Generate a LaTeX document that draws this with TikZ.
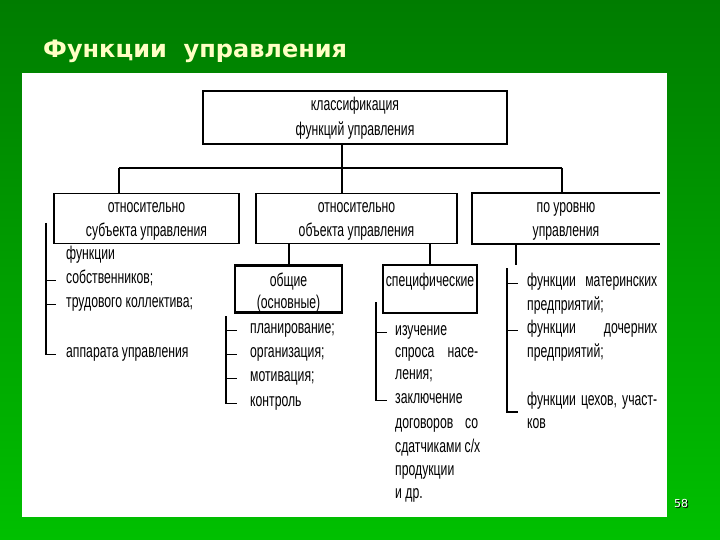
\documentclass[tikz,border=0pt]{standalone}
\usepackage{fontspec}
\setmainfont{Liberation Sans}
\newfontfamily\scanfont[FakeStretch=0.66]{Liberation Sans}
\newfontfamily\titlefont{DejaVu Sans}
\definecolor{bgtop}{RGB}{0,124,0}
\definecolor{bgbot}{RGB}{0,192,0}
\definecolor{titleyellow}{RGB}{255,255,196}
\newcommand{\shadowtext}[3]{\makebox[0pt][l]{\hspace*{#2}\raisebox{-#2}{\textcolor{#3}{#1}}}#1}
\tikzset{
  box/.style={draw, line width=1.7pt, inner sep=0pt},
  subbox/.style={box, line width=2.4pt},
  btext/.style={inner sep=0pt, align=center,
    font=\scanfont\fontsize{18.5}{24}\selectfont},
  conn/.style={line width=2pt},
  brk/.style={line width=1.6pt},
  item/.style={anchor=base west, inner sep=0pt,
    font=\scanfont\fontsize{18.5}{20}\selectfont},
}
\begin{document}
\begin{tikzpicture}[x=1pt,y=-1pt]
\useasboundingbox (0,0) rectangle (720,540);
\shade[top color=bgtop, bottom color=bgbot] (0,0) rectangle (720,540);
% title
\node[anchor=base west, inner sep=0pt, text=titleyellow,
  font=\titlefont\bfseries\fontsize{24}{28}\selectfont] (title) at (43,58)
  {Функции\ \ управления};
% panel
\fill[white] (22,73) rectangle (667,517);
% page number
\node[text=white, font=\titlefont\fontsize{11}{12}\selectfont] (pn) at (681,504)
  {\shadowtext{58}{1pt}{black}};

% top box
\node[box, minimum width=304pt, minimum height=53pt] (top) at (355,117.5) {};
\node[btext, font=\scanfont\fontsize{18.5}{25}\selectfont] (topt) at (355,118.5) {классификация\\функций управления};
% second row
\node[box, minimum width=185pt, minimum height=50pt] (b1) at (146.5,218.5) {};
\node[btext] (b1t) at (146.5,221) {относительно\\субъекта управления};
\node[box, minimum width=201pt, minimum height=50pt] (b2) at (356.5,218.5) {};
\node[btext] (b2t) at (356.5,221) {относительно\\объекта управления};
\node[minimum width=188pt, minimum height=50pt, inner sep=0pt] (b3) at (566,218.5) {};
\draw[line width=1.7pt] (b3.north east) -- (b3.north west) -- (b3.south west) -- (b3.south east);
\node[btext] (b3t) at (566,221) {по уровню\\управления};

% connectors from top
\coordinate (j0) at (342,168);
\coordinate (bl) at (119,168);
\coordinate (br) at (562,168);
\draw[conn] (top.south -| j0) -- (j0);
\draw[conn] (bl) -- (br);
\draw[conn] (bl) -- (bl |- b1.north);
\draw[conn] (j0) -- (j0 |- b2.north);
\draw[conn] (br) -- (br |- b3.north);

% sub boxes
\node[subbox, minimum width=107pt, minimum height=47pt] (g) at (288.5,289) {};
\node[btext, font=\scanfont\fontsize{18.5}{22}\selectfont] (gt) at (288.5,292.5) {общие\\(основные)};
\node[subbox, minimum width=94pt, minimum height=48pt] (s) at (430,289) {};
\node[btext] (st) at (430,282) {специфические};
\draw[conn] (g.north) -- (g.north |- b2.south);
\draw[conn] (s.north) -- (s.north |- b2.south);

% left list
\node[item] (l1) at (66,259) {функции};
\node[item] (l2) at (66,283) {собственников;};
\node[item] (l3) at (66,307) {трудового коллектива;};
\node[item] (l4) at (66,357) {аппарата управления};
\coordinate (la) at (46,223);
\draw[brk] (la) -- (la |- l4.mid west) -- ++(10,0);
\draw[brk] (la |- l2.mid west) -- ++(10,0);
\draw[brk] (la |- l3.mid west) -- ++(10,0);

% general functions list
\node[item] (g1) at (250,333) {планирование;};
\node[item] (g2) at (250,357) {организация;};
\node[item] (g3) at (250,381) {мотивация;};
\node[item] (g4) at (250,406) {контроль};
\coordinate (ga) at (226,316);
\draw[brk] (ga) -- (ga |- g4.mid west) -- ++(11,0);
\draw[brk] (ga |- g1.mid west) -- ++(11,0);
\draw[brk] (ga |- g2.mid west) -- ++(11,0);
\draw[brk] (ga |- g3.mid west) -- ++(11,0);

% specific functions list
\node[item] (s1) at (395,335) {изучение};
\node[item] (s2) at (395,357) {\makebox[83pt][l]{спроса\hfill насе-}};
\node[item] (s3) at (395,379) {ления;};
\node[item] (s4) at (395,403) {заключение};
\node[item] (s5) at (395,428) {\makebox[83pt][l]{договоров\hfill со}};
\node[item] (s6) at (395,452) {\makebox[83pt][l]{сдатчиками\hfill\ с/х}};
\node[item] (s7) at (395,475) {продукции};
\node[item] (s8) at (395,498) {и др.};
\coordinate (sa) at (376,302);
\draw[brk] (sa) -- (sa |- s4.mid west) -- ++(11,0);
\draw[brk] (sa |- s1.mid west) -- ++(11,0);

% level list
\coordinate (r0) at (516,265);
\draw[conn] (r0 |- b3.south) -- (r0);
\node[item] (r1) at (527,286) {\makebox[130pt][l]{функции\hfill материнских}};
\node[item] (r2) at (527,310) {предприятий;};
\node[item] (r3) at (527,333) {\makebox[130pt][l]{функции\hfill дочерних}};
\node[item] (r4) at (527,357) {предприятий;};
\node[item] (r5) at (527,405) {\makebox[130pt][l]{функции\hfill цехов,\hfill участ-}};
\node[item] (r6) at (527,428) {ков};
\coordinate (ra) at (507,268);
\coordinate (rb) at (507,412);
\draw[brk] (ra) -- (rb) -- ++(11,0);
\draw[brk] (ra |- r1.mid west) -- ++(11,0);
\draw[brk] (ra |- r3.mid west) -- ++(11,0);
\end{tikzpicture}
\end{document}
